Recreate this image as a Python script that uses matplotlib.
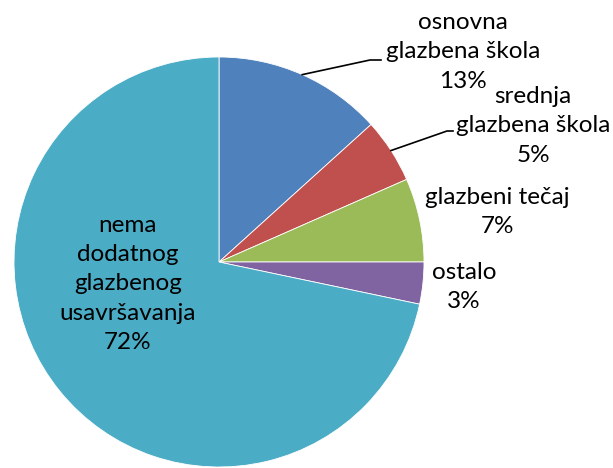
import matplotlib
matplotlib.use('Agg')
import matplotlib.pyplot as plt
import numpy as np

# data
labels = ['osnovna\nglazbena škola', 'srednja\nglazbena škola', 'glazbeni tečaj',
          'ostalo', 'nema\ndodatnog\nglazbenog\nusavršavanja']
shares = [13.3, 5.1, 6.6, 3.3, 71.7]
colors = ['#4F81BD', '#C0504D', '#9BBB59', '#8064A2', '#4BACC6']

W, H = 613, 468
fig = plt.figure(figsize=(W / 100, H / 100), dpi=100)
ax = fig.add_axes([0, 0, 1, 1])

cx, cy, r = 219, H - 262, 205
wedges, _ = ax.pie(shares, colors=colors, startangle=90, counterclock=False,
                   center=(cx, cy), radius=r,
                   wedgeprops=dict(edgecolor='white', linewidth=0.6))

ax.set_xlim(0, W)
ax.set_ylim(0, H)
ax.set_aspect('equal')
ax.axis('off')

# label centres (pixels from top-left)
label_pos = [(463, 52), (533, 126), (497, 212), (464, 287), (128, 284)]
# leader line end points for the first two labels
leaders = {0: [(370, 60), (381, 60)], 1: [(447, 131), (453, 131)]}

font = dict(family='Lato', fontsize=17.5, color='black', linespacing=1.48)

for i, (lab, v) in enumerate(zip(labels, shares)):
    txt = lab + '\n' + str(int(round(v))) + '%'
    x, y = label_pos[i]
    ax.text(x, H - y, txt, ha='center', va='center', **font)
    if i in leaders:
        w = wedges[i]
        ang = np.deg2rad((w.theta1 + w.theta2) / 2)
        pts = [(cx + r * np.cos(ang), cy + r * np.sin(ang))]
        pts += [(px, H - py) for px, py in leaders[i]]
        xs, ys = zip(*pts)
        ax.plot(xs, ys, color='black', lw=1.2)

fig.savefig('out.png', dpi=100)
